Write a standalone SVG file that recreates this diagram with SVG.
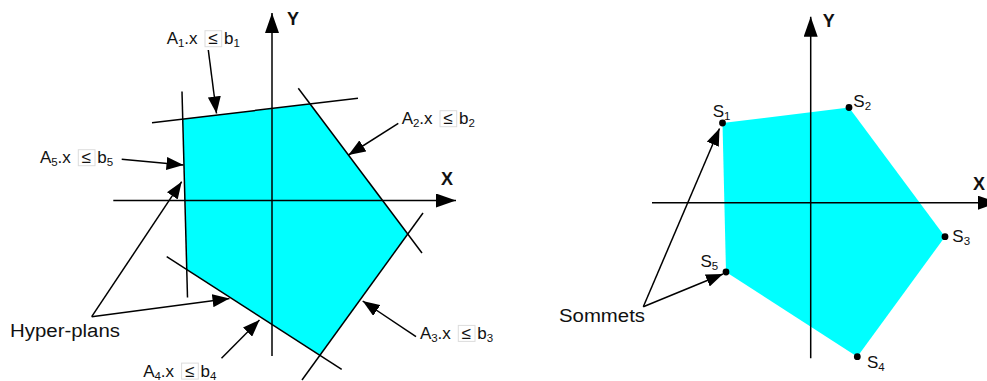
<svg xmlns="http://www.w3.org/2000/svg" width="987" height="381" viewBox="0 0 987 381">
<defs>
<marker id="ah" markerUnits="userSpaceOnUse" markerWidth="17" markerHeight="13" refX="17" refY="6.5" orient="auto">
<path d="M0,0 L17,6.5 L0,13 z" fill="#000"/>
</marker>
<marker id="axh" markerUnits="userSpaceOnUse" markerWidth="20" markerHeight="14" refX="20" refY="7" orient="auto">
<path d="M0,0 L20,7 L0,14 z" fill="#000"/>
</marker>
</defs>
<style>
.ln{stroke:#000;stroke-width:1.5;fill:none}
.ax{stroke:#000;stroke-width:1.5;fill:none;marker-end:url(#axh)}
.ar{stroke:#000;stroke-width:1.5;fill:none;marker-end:url(#ah)}
.reg{fill:#00ffff;stroke:none}
text{font-family:"Liberation Sans",Arial,sans-serif;fill:#111}
.lab{font-size:17px}
.sub{font-size:11.5px}
.axl{font-size:18px;font-weight:bold}
.box{fill:none;stroke:#dcdcdc;stroke-width:1}
.dot{fill:#000}
</style>

<!-- Left diagram -->
<g id="region-left"><polygon class="reg" points="182.7,119.1 310,104 407.7,234 319.9,355.3 186.8,269.6"/></g>

<g id="axes-left">
<line class="ax" x1="113.3" y1="200.5" x2="456" y2="200.5"/>
<line class="ax" x1="272" y1="356" x2="272" y2="13"/>
<text class="axl" x="441" y="185">X</text>
<text class="axl" x="287" y="25">Y</text>
</g>

<g id="hyperplanes">
<line id="h1" class="ln" x1="152" y1="122.7" x2="358" y2="98.3"/>
<line id="h2" class="ln" x1="298.3" y1="88.3" x2="422" y2="253"/>
<line id="h3" class="ln" x1="423" y1="213" x2="302" y2="380"/>
<line id="h4" class="ln" x1="166.7" y1="256.7" x2="341.7" y2="369.3"/>
<line id="h5" class="ln" x1="182" y1="91.5" x2="187.5" y2="297.5"/>
</g>

<g id="connectors">
<line class="ar" x1="208.3" y1="50" x2="216.5" y2="113.5"/>
<line class="ar" x1="398.3" y1="123.3" x2="348.5" y2="155"/>
<line class="ar" x1="121.7" y1="159.3" x2="183.5" y2="165"/>
<line class="ar" x1="416" y1="336.7" x2="362.7" y2="301"/>
<line class="ar" x1="221.5" y1="358.3" x2="259.5" y2="320"/>
<line class="ar" x1="91.7" y1="316.7" x2="181.7" y2="181.7"/>
<line class="ar" x1="91.7" y1="316.7" x2="229.5" y2="298.5"/>
<line class="ar" x1="643.3" y1="306.7" x2="719.5" y2="128.5"/>
<line class="ar" x1="643.3" y1="306.7" x2="723" y2="274"/>
</g>

<g id="label-a1" transform="translate(166.7,44.3)">
<rect class="box" x="38.3" y="-13.6" width="16.7" height="16"/>
<text class="lab" x="0" y="0">A<tspan class="sub" x="11.3" y="3">1</tspan><tspan x="17.5" y="0">.x</tspan><tspan x="41.6">≤</tspan><tspan x="57.3">b</tspan><tspan class="sub" x="66.8" y="3">1</tspan></text>
</g>
<g id="label-a2" transform="translate(401.7,124.3)">
<rect class="box" x="38.3" y="-13.6" width="16.7" height="16"/>
<text class="lab" x="0" y="0">A<tspan class="sub" x="11.3" y="3">2</tspan><tspan x="17.5" y="0">.x</tspan><tspan x="41.6">≤</tspan><tspan x="57.3">b</tspan><tspan class="sub" x="66.8" y="3">2</tspan></text>
</g>
<g id="label-a5" transform="translate(40,163.3)">
<rect class="box" x="38.3" y="-13.6" width="16.7" height="16"/>
<text class="lab" x="0" y="0">A<tspan class="sub" x="11.3" y="3">5</tspan><tspan x="17.5" y="0">.x</tspan><tspan x="41.6">≤</tspan><tspan x="57.3">b</tspan><tspan class="sub" x="66.8" y="3">5</tspan></text>
</g>
<g id="label-a3" transform="translate(420,339)">
<rect class="box" x="38.3" y="-13.6" width="16.7" height="16"/>
<text class="lab" x="0" y="0">A<tspan class="sub" x="11.3" y="3">3</tspan><tspan x="17.5" y="0">.x</tspan><tspan x="41.6">≤</tspan><tspan x="57.3">b</tspan><tspan class="sub" x="66.8" y="3">3</tspan></text>
</g>
<g id="label-a4" transform="translate(143.3,376.7)">
<rect class="box" x="38.3" y="-13.6" width="16.7" height="16"/>
<text class="lab" x="0" y="0">A<tspan class="sub" x="11.3" y="3">4</tspan><tspan x="17.5" y="0">.x</tspan><tspan x="41.6">≤</tspan><tspan x="57.3">b</tspan><tspan class="sub" x="66.8" y="3">4</tspan></text>
</g>
<g id="label-hyperplans">
<text class="lab" x="10" y="336.7" textLength="110" lengthAdjust="spacingAndGlyphs" style="font-size:18px">Hyper-plans</text>
</g>

<!-- Right diagram -->
<g id="region-right"><polygon class="reg" points="722.5,123 849,107.5 945,236.7 857.3,356.7 726,272"/></g>
<g id="axes-right">
<line class="ax" x1="652" y1="202.7" x2="998" y2="202.7"/>
<line class="ax" x1="810.7" y1="358.3" x2="810.7" y2="16.7"/>
<text class="axl" x="973" y="190">X</text>
<text class="axl" x="822.7" y="26.7">Y</text>
</g>
<g id="s1"><circle class="dot" cx="722.5" cy="123" r="3.4"/><text class="lab" x="712.7" y="116.7">S<tspan class="sub" y="119.5">1</tspan></text></g>
<g id="s2"><circle class="dot" cx="849" cy="107.5" r="3.4"/><text class="lab" x="853.3" y="107.3">S<tspan class="sub" y="110.1">2</tspan></text></g>
<g id="s3"><circle class="dot" cx="945" cy="236.7" r="3.4"/><text class="lab" x="952.3" y="241.7">S<tspan class="sub" y="244.5">3</tspan></text></g>
<g id="s4"><circle class="dot" cx="857.3" cy="356.7" r="3.4"/><text class="lab" x="867" y="367.7">S<tspan class="sub" y="370.5">4</tspan></text></g>
<g id="s5"><circle class="dot" cx="726" cy="272" r="3.4"/><text class="lab" x="700.5" y="266.7">S<tspan class="sub" y="269.5">5</tspan></text></g>
<g id="label-sommets">
<text class="lab" x="559" y="321.7" textLength="86" lengthAdjust="spacingAndGlyphs" style="font-size:18px">Sommets</text>
</g>
</svg>
